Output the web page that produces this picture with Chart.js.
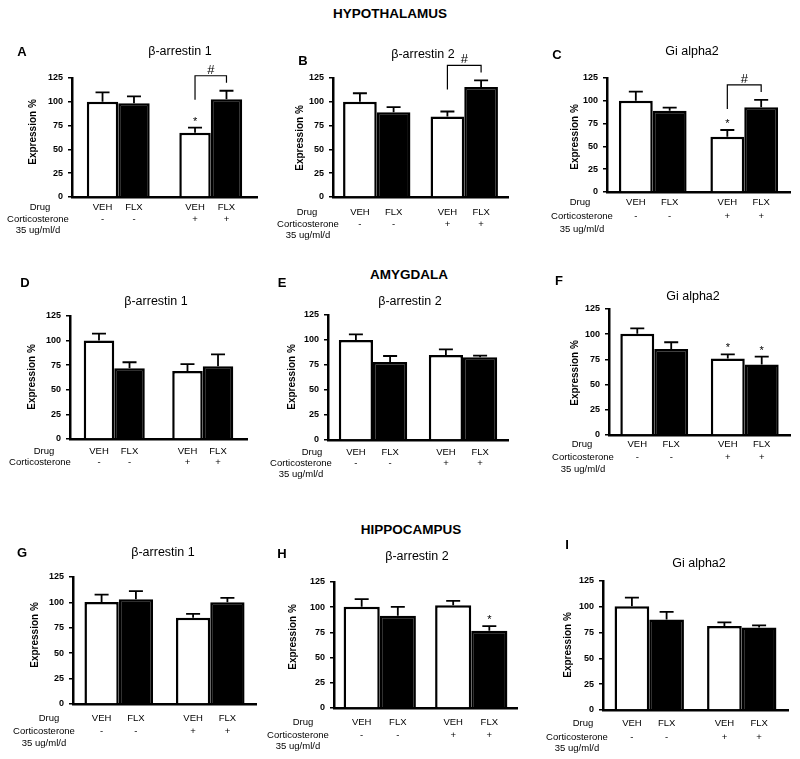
<!DOCTYPE html>
<html>
<head>
<meta charset="utf-8">
<script src="https://cdn.jsdelivr.net/npm/chart.js@4.4.1/dist/chart.umd.min.js"></script>
<style>
  html, body { margin: 0; padding: 0; background: #fff; }
  #fig { position: relative; width: 800px; height: 759px; overflow: hidden; font-family: "Liberation Sans", Arial, sans-serif; }
  #fig canvas { position: absolute; left: 0; top: 0; }
  .region { position: absolute; transform: translate(-50%, -50%); font-weight: bold; font-size: 13.5px; line-height: 1; white-space: nowrap; color: #000; }
</style>
</head>
<body>
<div id="fig"></div>
<script>
// values: expression %, mean and upper error, panels A..I
const panelLetters = ['A', 'B', 'C', 'D', 'E', 'F', 'G', 'H', 'I'];
const regions = ['HYPOTHALAMUS', 'AMYGDALA', 'HIPPOCAMPUS'];
const proteins = ['β-arrestin 1', 'β-arrestin 2', 'Gi alpha2'];
const drugLabels = ['VEH', 'FLX'];
const cortLabels = ['-', '+'];
const rowHeads = ['Drug', 'Corticosterone', '35 ug/ml/d'];

const vehMean = [[100, 67.6], [100, 84.5], [100, 60.7], [100, 69], [100, 85], [100.5, 76], [100.3, 85], [100.5, 102], [100.5, 81.5]];
const vehErr = [[10, 5.3], [9, 5.3], [10, 7.3], [7, 7], [5.7, 5.7], [5.3, 4], [7.4, 3.8], [7.5, 4.3], [8.4, 3.5]];
const flxMean = [[98.6, 102.8], [89, 115.5], [89, 93], [71.8, 74], [78, 82.7], [85.3, 70], [103, 100.2], [91.4, 76.6], [87.6, 80]];
const flxErr = [[7, 8.8], [5.4, 7], [3.6, 8], [6.2, 12], [6, 1.6], [6.7, 7.7], [8, 4.2], [8.9, 4.7], [7.4, 2]];

// * = vs control, # = bracket between VEH+ and FLX+
const vehStar = [[0, 1], [0, 0], [0, 1], [0, 0], [0, 0], [0, 1], [0, 0], [0, 0], [0, 0]];
const flxStar = [[0, 0], [0, 0], [0, 0], [0, 0], [0, 0], [0, 1], [0, 0], [0, 1], [0, 0]];
const hashPair = [1, 1, 1, 0, 0, 0, 0, 0, 0];

// where each panel sits on the page
const layout = [
  { x0: 72, x1: 257, top: 78, bot: 197, cp: 0.68, letter: [22, 52], title: [180, 52], yTitle: [33, 132], rows: [207, 219, 230], drugX: 40, headX: 38 },
  { x0: 333, x1: 508, top: 78, bot: 197, cp: 0.77, letter: [303, 61], title: [423, 55], yTitle: [300, 138], rows: [212, 224, 235], drugX: 307, headX: 308 },
  { x0: 607, x1: 790, top: 78, bot: 192, cp: 0.74, letter: [557, 55], title: [692, 52], yTitle: [575, 137], rows: [202, 216, 229], drugX: 580, headX: 582 },
  { x0: 70, x1: 247, top: 316, bot: 439, cp: 0.69, letter: [25, 283], title: [156, 302], yTitle: [32, 377], rows: [451, 462, null], drugX: 44, headX: 40 },
  { x0: 328, x1: 508, top: 315, bot: 440, cp: 0.76, letter: [282, 283], title: [410, 302], yTitle: [292, 377], rows: [452, 463, 474], drugX: 312, headX: 301 },
  { x0: 609, x1: 790, top: 309, bot: 435, cp: 0.75, letter: [559, 281], title: [693, 297], yTitle: [575, 373], rows: [444, 457, 469], drugX: 582, headX: 583 },
  { x0: 73, x1: 256, top: 577, bot: 704, cp: 0.75, letter: [22, 553], title: [163, 553], yTitle: [35, 635], rows: [718, 731, 743], drugX: 49, headX: 44 },
  { x0: 334, x1: 517, top: 582, bot: 708, cp: 0.79, letter: [282, 554], title: [417, 557], yTitle: [293, 637], rows: [722, 735, 746], drugX: 303, headX: 298 },
  { x0: 603, x1: 788, top: 581, bot: 710, cp: 0.75, letter: [567, 545], title: [699, 564], yTitle: [568, 645], rows: [723, 737, 748], drugX: 583, headX: 577 }
];
const regionPos = [[390, 14], [409, 275], [411, 530]];

const W = 800, H = 759;
const FONT = '"Liberation Sans", Arial, sans-serif';
const fig = document.getElementById('fig');

// error bars, stars, # bracket and all panel text
const annotate = {
  id: 'annotate',
  afterDatasetsDraw(chart, args, opts) {
    const i = opts.panel;
    const ctx = chart.ctx, y = chart.scales.y;
    const means = [vehMean[i], flxMean[i]], errs = [vehErr[i], flxErr[i]], stars = [vehStar[i], flxStar[i]];
    const tops = [[], []];
    ctx.save();
    ctx.strokeStyle = '#000';
    ctx.fillStyle = '#000';
    ctx.lineWidth = 1.8;
    for (let d = 0; d < 2; d++) {
      chart.getDatasetMeta(d).data.forEach((bar, j) => {
        const yt = y.getPixelForValue(means[d][j] + errs[d][j]);
        tops[d][j] = yt;
        ctx.beginPath();
        ctx.moveTo(bar.x, bar.y);
        ctx.lineTo(bar.x, yt);
        ctx.moveTo(bar.x - 7, yt);
        ctx.lineTo(bar.x + 7, yt);
        ctx.stroke();
        if (stars[d][j]) {
          ctx.font = '11px ' + FONT;
          ctx.textAlign = 'center';
          ctx.textBaseline = 'alphabetic';
          ctx.fillText('*', bar.x, yt - 3);
        }
      });
    }
    if (hashPair[i]) {
      const xa = chart.getDatasetMeta(0).data[1].x;
      const xb = chart.getDatasetMeta(1).data[1].x;
      const top = Math.min(tops[0][1], tops[1][1]) - 15;
      ctx.lineWidth = 1.2;
      ctx.beginPath();
      ctx.moveTo(xa, top + 24);
      ctx.lineTo(xa, top);
      ctx.lineTo(xb, top);
      ctx.lineTo(xb, top + 7);
      ctx.stroke();
      ctx.font = '13px ' + FONT;
      ctx.textAlign = 'center';
      ctx.textBaseline = 'alphabetic';
      ctx.fillText('#', (xa + xb) / 2, top - 2);
    }
    ctx.restore();
  },
  afterDraw(chart, args, opts) {
    const i = opts.panel, L = layout[i];
    const ctx = chart.ctx;
    ctx.save();
    ctx.fillStyle = '#000';
    ctx.textAlign = 'center';
    ctx.textBaseline = 'middle';
    ctx.font = 'bold 13px ' + FONT;
    ctx.fillText(panelLetters[i], L.letter[0], L.letter[1]);
    ctx.font = '12.5px ' + FONT;
    ctx.fillText(proteins[i % 3], L.title[0], L.title[1]);

    ctx.save();
    ctx.translate(L.yTitle[0], L.yTitle[1]);
    ctx.rotate(-Math.PI / 2);
    ctx.font = 'bold 10px ' + FONT;
    ctx.fillText('Expression %', 0, 0);
    ctx.restore();

    ctx.font = '9.5px ' + FONT;
    ctx.fillText(rowHeads[0], L.drugX, L.rows[0]);
    ctx.fillText(rowHeads[1], L.headX, L.rows[1]);
    if (L.rows[2]) ctx.fillText(rowHeads[2], L.headX, L.rows[2]);
    for (let d = 0; d < 2; d++) {
      chart.getDatasetMeta(d).data.forEach((bar, j) => {
        ctx.fillText(drugLabels[d], bar.x, L.rows[0]);
        ctx.fillText(cortLabels[j], bar.x, L.rows[1]);
      });
    }
    ctx.restore();
  }
};

regions.forEach((name, r) => {
  const div = document.createElement('div');
  div.className = 'region';
  div.textContent = name;
  div.style.left = regionPos[r][0] + 'px';
  div.style.top = regionPos[r][1] + 'px';
  fig.appendChild(div);
});

layout.forEach((L, i) => {
  const cv = document.createElement('canvas');
  cv.width = W;
  cv.height = H;
  fig.appendChild(cv);

  new Chart(cv, {
    type: 'bar',
    data: {
      labels: cortLabels,
      datasets: [
        { label: drugLabels[0], data: vehMean[i], backgroundColor: '#fff', borderColor: '#000', borderWidth: 2.5 },
        { label: drugLabels[1], data: flxMean[i], backgroundColor: '#000', borderColor: '#000', borderWidth: 2.5 }
      ]
    },
    options: {
      responsive: false,
      animation: false,
      events: [],
      layout: { padding: { left: L.x0 - 30, right: W - L.x1, top: L.top, bottom: H - L.bot } },
      datasets: { bar: { barPercentage: 1, categoryPercentage: L.cp } },
      plugins: {
        legend: { display: false },
        tooltip: { enabled: false },
        title: { display: false },
        annotate: { panel: i }
      },
      scales: {
        x: {
          grid: { display: false },
          ticks: { display: false },
          border: { color: '#000', width: 2.5 },
          afterFit: s => { s.height = 0; }
        },
        y: {
          min: 0,
          max: 125,
          ticks: { stepSize: 25, padding: 5, color: '#000', font: { family: FONT, size: 9, weight: 'bold' } },
          grid: { drawOnChartArea: false, tickLength: 4, color: '#000', lineWidth: 1.5 },
          border: { color: '#000', width: 2.5 },
          afterFit: s => { s.width = 30; }
        }
      }
    },
    plugins: [annotate]
  });
});
</script>
</body>
</html>
